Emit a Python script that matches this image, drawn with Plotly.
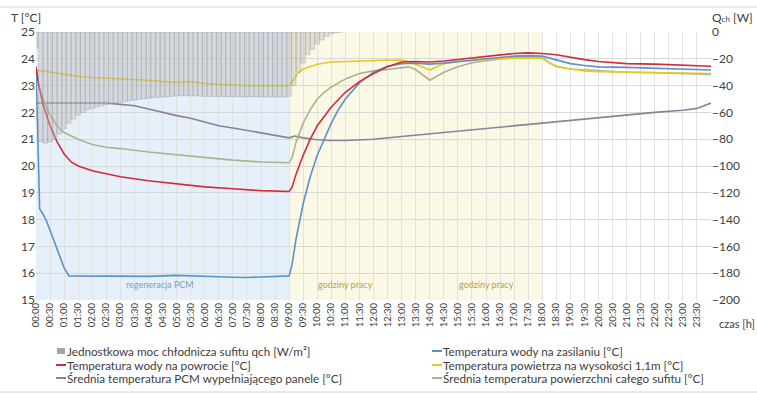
import plotly.graph_objects as go

# ---- data -------------------------------------------------------------
# Unit cooling power of the ceiling [W], sampled every 10 minutes from 00:00
qch_vals = [
    -12, -82, -83, -82, -80, -76,          # 00:00 - 00:50
    -72, -68, -65, -62, -60, -58,          # 01:00 - 01:50
    -57, -56, -55, -54.3, -53.6, -53,      # 02:00 - 02:50
    -52.5, -52, -51.3, -50.8, -50.3, -49.8,  # 03:00 - 03:50
    -49.5, -49.2, -48.8, -48.6, -48.3, -48.0,  # 04:00 - 04:50
    -47.8, -47.6, -47.5, -47.7, -47.6, -47.9,  # 05:00 - 05:50
    -48.0, -48.2, -48.1, -48.3, -48.2, -48.4,  # 06:00 - 06:50
    -48.3, -48.5, -48.4, -48.5, -48.3, -48.5,  # 07:00 - 07:50
    -48.4, -48.6, -48.5, -48.4, -48.6, -48.5,  # 08:00 - 08:50
    -48, -40, -30, -23, -17, -13,          # 09:00 - 09:50
    -9, -6, -3.5, -1.5, -0.5, 0,           # 10:00 - 10:50
]
qch_t = [i / 6 for i in range(len(qch_vals))]

# Supply water temperature [°C]
sup_t = [0, 0.05, 0.13, 0.25, 0.37, 0.5, 0.75, 1.0, 1.17, 1.5, 2, 3, 4, 5, 6, 6.5, 7,
         7.5, 8, 8.5, 9.0, 9.1, 9.25, 9.5, 9.75, 10, 10.25, 10.5, 10.75, 11, 11.5, 12,
         12.5, 13, 13.5, 14, 14.5, 15, 16, 17, 17.5, 18, 18.5, 19, 19.5, 20, 21, 22, 23, 24]
sup_v = [23.7, 21.5, 18.4, 18.2, 17.95, 17.6, 16.9, 16.2, 15.9, 15.9, 15.88, 15.9, 15.88,
         15.92, 15.88, 15.85, 15.85, 15.84, 15.86, 15.87, 15.9, 16.3, 17.3, 18.6, 19.6,
         20.4, 21.0, 21.6, 22.1, 22.5, 23.1, 23.5, 23.72, 23.82, 23.84, 23.8, 23.84, 23.9,
         24.0, 24.1, 24.12, 24.1, 23.95, 23.82, 23.75, 23.7, 23.68, 23.65, 23.62, 23.58]

# Return water temperature [°C]
ret_t = [0, 0.1, 0.25, 0.5, 0.75, 1.0, 1.25, 1.5, 2, 2.5, 3, 4, 5, 6, 7, 8, 9, 9.1, 9.25,
         9.5, 9.75, 10, 10.5, 11, 11.5, 12, 12.5, 13, 13.5, 14, 14.5, 15, 16, 17, 17.5,
         18, 18.5, 19, 19.5, 20, 20.5, 21, 22, 23, 24]
ret_v = [23.7, 23.0, 22.3, 21.5, 20.9, 20.45, 20.15, 20.0, 19.82, 19.7, 19.6, 19.45,
         19.33, 19.22, 19.15, 19.08, 19.05, 19.2, 19.7, 20.4, 21.0, 21.5, 22.2, 22.75,
         23.15, 23.45, 23.7, 23.88, 23.9, 23.88, 23.92, 23.98, 24.1, 24.2, 24.22, 24.2,
         24.15, 24.05, 23.97, 23.9, 23.85, 23.82, 23.8, 23.75, 23.72]

# Air temperature at 1.1 m [°C]
air_t = [0, 0.5, 1, 1.5, 2, 2.5, 3, 3.5, 4, 4.5, 5, 5.5, 6, 6.5, 7, 7.5, 8, 8.5, 9, 9.15,
         9.3, 9.5, 9.75, 10, 10.5, 11, 11.5, 12, 12.5, 13, 13.25, 13.5, 13.75, 14, 14.25,
         14.5, 15, 15.5, 16, 16.5, 17, 17.5, 18, 18.25, 18.5, 19, 19.5, 20, 21, 22, 23, 24]
air_v = [23.58, 23.5, 23.42, 23.35, 23.3, 23.28, 23.25, 23.22, 23.2, 23.15, 23.12, 23.15,
         23.08, 23.05, 23.02, 23.0, 23.0, 23.0, 23.0, 23.2, 23.45, 23.62, 23.72, 23.8,
         23.88, 23.9, 23.93, 23.95, 23.95, 23.95, 23.9, 23.8, 23.68, 23.58, 23.7, 23.82,
         23.9, 23.95, 23.98, 24.0, 24.02, 24.03, 24.02, 23.85, 23.7, 23.62, 23.55, 23.52,
         23.5, 23.47, 23.45, 23.45]

# Mean temperature of the PCM filling the panels [°C]
pcm_t = [0, 0.5, 1, 1.5, 2, 2.5, 3, 3.5, 4, 4.5, 5, 5.5, 6, 6.5, 7, 7.5, 8, 8.5, 9, 9.2,
         9.5, 10, 10.5, 11, 11.5, 12, 13, 14, 15, 16, 17, 18, 19, 20, 21, 22, 23, 23.5, 24]
pcm_v = [22.35, 22.35, 22.34, 22.35, 22.36, 22.35, 22.3, 22.25, 22.13, 22.0, 21.88, 21.78,
         21.65, 21.5, 21.42, 21.33, 21.25, 21.15, 21.05, 21.12, 21.05, 20.98, 20.95,
         20.95, 20.97, 21.0, 21.1, 21.2, 21.32, 21.42, 21.52, 21.62, 21.72, 21.82, 21.9,
         22.0, 22.08, 22.15, 22.35]

# Mean surface temperature of the whole ceiling [°C]
srf_t = [0, 0.1, 0.25, 0.5, 0.75, 1, 1.5, 2, 2.5, 3, 4, 5, 6, 7, 8, 9, 9.1, 9.25, 9.5,
         9.75, 10, 10.25, 10.5, 11, 11.5, 12, 12.5, 13, 13.25, 13.5, 13.75, 14, 14.25,
         14.5, 15, 15.5, 16, 17, 17.5, 18, 18.25, 18.5, 19, 20, 21, 22, 23, 24]
srf_v = [23.7, 23.0, 22.5, 21.9, 21.5, 21.25, 21.0, 20.8, 20.7, 20.65, 20.52, 20.42,
         20.3, 20.22, 20.15, 20.12, 20.3, 20.9, 21.6, 22.1, 22.5, 22.75, 22.95, 23.25,
         23.45, 23.55, 23.6, 23.66, 23.7, 23.6, 23.4, 23.2, 23.35, 23.5, 23.7, 23.85,
         23.93, 24.05, 24.07, 24.05, 23.85, 23.72, 23.62, 23.55, 23.5, 23.48, 23.45, 23.42]

# Time axis ticks every 30 minutes
tick_vals = [i / 2 for i in range(48)]
tick_text = [f"{i // 2:02d}:{'30' if i % 2 else '00'}" for i in range(48)]

# Shaded periods (start h, end h, label)
periods_regen = [(0, 9, "regeneracja PCM")]
periods_work = [(9, 18)]
work_label_hours = [11, 16]

# ---- styling ----------------------------------------------------------
FONT = "Lato"
TXT = "#404040"
C_BAR = "rgba(185,185,185,0.42)"
C_BAR_EDGE = "rgba(125,125,125,0.5)"
C_SUP = "#5b93c4"
C_RET = "#d42a3c"
C_AIR = "#e6cb20"
C_PCM = "#8a8299"
C_SRF = "#a8b48e"

names = {
    "bar": "Jednostkowa moc chłodnicza sufitu qch [W/m²]",
    "sup": "Temperatura wody na zasilaniu [°C]",
    "ret": "Temperatura wody na powrocie [°C]",
    "air": "Temperatura powietrza na wysokości 1,1m [°C]",
    "pcm": "Średnia temperatura PCM wypełniającego panele [°C]",
    "srf": "Średnia temperatura powierzchni całego sufitu [°C]",
}

fig = go.Figure()

fig.add_trace(go.Bar(
    x=qch_t, y=qch_vals, yaxis="y2", name=names["bar"], showlegend=False,
    marker=dict(color=C_BAR, line=dict(color=C_BAR_EDGE, width=0.5)),
    hoverinfo="skip",
))

for key, t, v, col in [("pcm", pcm_t, pcm_v, C_PCM), ("srf", srf_t, srf_v, C_SRF),
                       ("air", air_t, air_v, C_AIR), ("sup", sup_t, sup_v, C_SUP),
                       ("ret", ret_t, ret_v, C_RET)]:
    fig.add_trace(go.Scatter(x=t, y=v, mode="lines", name=names[key], showlegend=False,
                             line=dict(color=col, width=1.6)))

# Plot area geometry in pixels (used for paper-coordinate placement)
W, H = 757, 394
L, R, T, B = 36, 46, 32, 94
PW, PH = W - L - R, H - T - B


def px(xp):
    return (xp - L) / PW


def py(yp):
    return (H - B - yp) / PH


shapes = []
annotations = []

for a, b, lab in periods_regen:
    shapes.append(dict(type="rect", xref="x", yref="paper", x0=a, x1=b, y0=0, y1=1,
                       fillcolor="#e6f0fa", line_width=0, layer="below"))
    annotations.append(dict(x=(a + b) / 2 - 0.1, xref="x", y=py(292), yref="paper", text=lab,
                            showarrow=False, font=dict(family=FONT, size=9, color="#7a9fc2")))
for a, b in periods_work:
    shapes.append(dict(type="rect", xref="x", yref="paper", x0=a, x1=b, y0=0, y1=1,
                       fillcolor="#fcf8e6", line_width=0, layer="below"))
for h in work_label_hours:
    annotations.append(dict(x=h, xref="x", y=py(292), yref="paper", text="godziny pracy",
                            showarrow=False, font=dict(family=FONT, size=9, color="#b3a247")))

# Outer frame lines
for yy in (7, 392):
    shapes.append(dict(type="line", xref="paper", yref="paper", x0=px(0), x1=px(W),
                       y0=py(yy), y1=py(yy), line=dict(color="#d4d4d4", width=1)))

# Axis titles
annotations += [
    dict(x=px(9), y=py(18), xref="paper", yref="paper", xanchor="left", yanchor="middle",
         text="T [°C]", showarrow=False, font=dict(family=FONT, size=12, color=TXT)),
    dict(x=px(755), y=py(18), xref="paper", yref="paper", xanchor="right", yanchor="middle",
         text="Q<span style='font-size:8px'>ch</span> [W]",
         showarrow=False, font=dict(family=FONT, size=12, color=TXT)),
    dict(x=px(717), y=py(323), xref="paper", yref="paper", xanchor="left", yanchor="middle",
         text="czas [h]", showarrow=False, font=dict(family=FONT, size=11, color=TXT)),
]

# Legend (two columns)
legend_items = [("bar", C_BAR, 57, 351), ("ret", C_RET, 57, 365), ("pcm", C_PCM, 57, 378),
                ("sup", C_SUP, 433, 351), ("air", C_AIR, 433, 365), ("srf", C_SRF, 433, 378)]
for key, col, lx, ly in legend_items:
    if key == "bar":
        shapes.append(dict(type="rect", xref="paper", yref="paper", x0=px(lx), x1=px(lx + 8),
                           y0=py(ly + 3), y1=py(ly - 3), fillcolor="#a5a5a5", line_width=0))
    else:
        shapes.append(dict(type="line", xref="paper", yref="paper", x0=px(lx - 1), x1=px(lx + 9),
                           y0=py(ly), y1=py(ly), line=dict(color=col, width=2)))
    annotations.append(dict(x=px(lx + 8), y=py(ly), xref="paper", yref="paper",
                            xanchor="left", yanchor="middle", text=names[key], showarrow=False,
                            font=dict(family=FONT, size=11.7, color=TXT)))

fig.update_layout(
    width=W, height=H,
    margin=dict(l=L, r=R, t=T, b=B),
    paper_bgcolor="white", plot_bgcolor="white",
    font=dict(family=FONT, color=TXT),
    bargap=0.05,
    showlegend=False,
    shapes=shapes, annotations=annotations,
    xaxis=dict(range=[0, 24], tickvals=tick_vals, ticktext=tick_text, tickangle=-90,
               tickfont=dict(size=9.5, color=TXT), showgrid=True, gridcolor="#e1e1e1",
               gridwidth=1, zeroline=False, showline=False, ticks=""),
    yaxis=dict(range=[15, 25], dtick=1, tickfont=dict(size=12, color=TXT), showgrid=True,
               gridcolor="#d9d9d9", zeroline=False, showline=False, ticks=""),
    yaxis2=dict(range=[-200, 0], dtick=20, overlaying="y", side="right",
                tickfont=dict(size=12, color=TXT), showgrid=False, zeroline=False,
                showline=False, ticks=""),
)

fig.write_html("out.html")
